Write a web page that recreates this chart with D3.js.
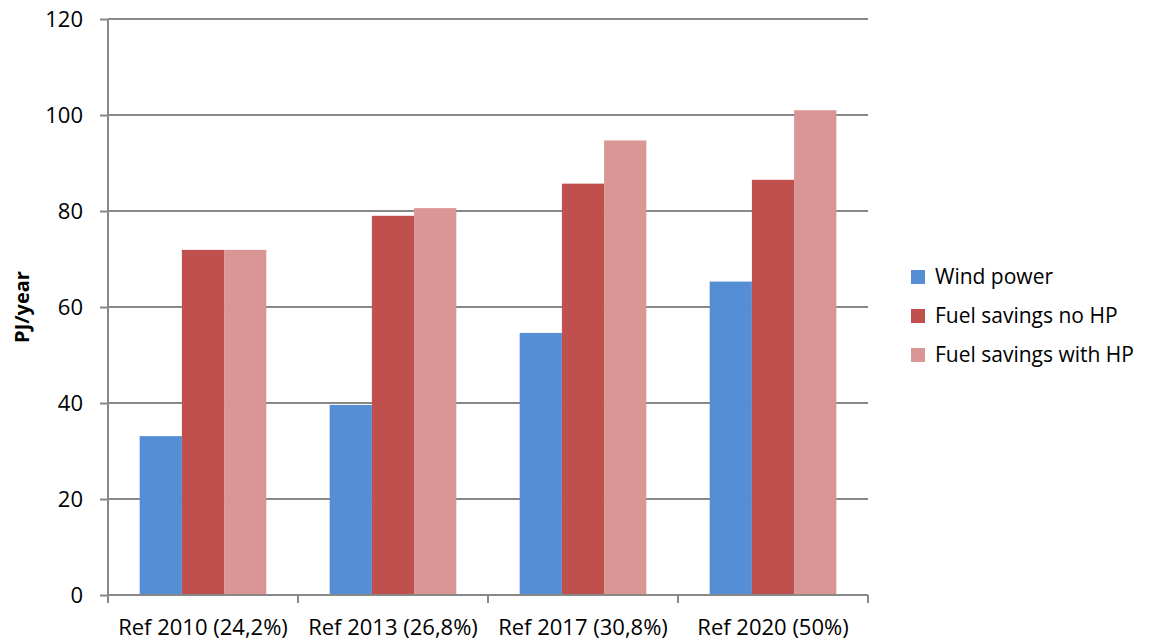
<!DOCTYPE html>
<html>
<head>
<meta charset="utf-8">
<script src="https://cdn.jsdelivr.net/npm/d3@7/dist/d3.min.js"></script>
<style>
  body { margin: 0; background: #fff; }
  text { font-family: "Open Sans", "Noto Sans", sans-serif; fill: #000; }
</style>
</head>
<body>
<svg id="chart" width="1159" height="643"></svg>
<script>
// chart data
var categories = ['Ref 2010 (24,2%)', 'Ref 2013 (26,8%)', 'Ref 2017 (30,8%)', 'Ref 2020 (50%)'];
var seriesNames = ['Wind power', 'Fuel savings no HP', 'Fuel savings with HP'];
var windPower = [33.1, 39.6, 54.6, 65.3];
var fuelNoHP = [71.9, 79.0, 85.7, 86.5];
var fuelWithHP = [71.9, 80.6, 94.7, 101.0];
var yTicks = [0, 20, 40, 60, 80, 100, 120];
var colors = ['#558ED5', '#C0504D', '#D99694'];

var seriesValues = [windPower, fuelNoHP, fuelWithHP];

var svg = d3.select('#chart');
var plotLeft = 108, plotRight = 868, plotTop = 19, plotBottom = 595;

var x = d3.scaleBand().domain(categories).range([plotLeft, plotRight]);
var inner = d3.scaleBand().domain(seriesNames)
    .range([0, x.bandwidth()]).paddingOuter(0.75).paddingInner(0);
var y = d3.scaleLinear().domain([0, 120]).range([plotBottom, plotTop]);

// gridlines
svg.append('g')
    .selectAll('line')
    .data(yTicks.filter(d => d > 0))
    .join('line')
    .attr('x1', plotLeft).attr('x2', plotRight)
    .attr('y1', d => y(d)).attr('y2', d => y(d))
    .attr('stroke', '#888').attr('stroke-width', 2);

// bars
var groups = svg.append('g')
    .selectAll('g')
    .data(seriesNames)
    .join('g')
    .attr('fill', (d, i) => colors[i]);

groups.selectAll('rect')
    .data((d, i) => categories.map((c, j) => ({cat: c, s: d, v: seriesValues[i][j]})))
    .join('rect')
    .attr('x', d => x(d.cat) + inner(d.s))
    .attr('y', d => y(d.v))
    .attr('width', inner.bandwidth())
    .attr('height', d => plotBottom - y(d.v));

// y axis
var yAxis = svg.append('g')
    .attr('transform', `translate(${plotLeft},0)`)
    .call(d3.axisLeft(y).tickValues(yTicks).tickSize(8).tickPadding(17));
yAxis.select('.domain').attr('stroke', '#888').attr('stroke-width', 2)
    .attr('d', `M0,${plotTop}V${plotBottom}`);
yAxis.selectAll('.tick line').attr('stroke', '#888').attr('stroke-width', 2);
yAxis.selectAll('.tick text').style('font-size', '22px').attr('fill', '#000');

// x axis
var xAxis = svg.append('g')
    .attr('transform', `translate(0,${plotBottom})`)
    .call(d3.axisBottom(x).tickSize(0));
xAxis.select('.domain').attr('stroke', '#888').attr('stroke-width', 2)
    .attr('d', `M${plotLeft},0H${plotRight}`);
xAxis.selectAll('.tick text')
    .attr('y', 40).attr('dy', null)
    .style('font-size', '22px').attr('fill', '#000');
xAxis.append('g')
    .selectAll('line')
    .data(d3.range(categories.length + 1))
    .join('line')
    .attr('x1', i => plotLeft + i * x.step()).attr('x2', i => plotLeft + i * x.step())
    .attr('y1', 0).attr('y2', 8)
    .attr('stroke', '#888').attr('stroke-width', 2);

// y title
svg.append('text')
    .attr('transform', 'translate(29,307) rotate(-90)')
    .attr('text-anchor', 'middle')
    .style('font-size', '20px')
    .style('font-weight', 'bold')
    .text('PJ/year');

// legend
var legend = svg.append('g')
    .selectAll('g')
    .data(seriesNames)
    .join('g')
    .attr('transform', (d, i) => `translate(911,${277 + i * 39})`);
legend.append('rect')
    .attr('x', 0).attr('y', -7)
    .attr('width', 14).attr('height', 14)
    .attr('fill', (d, i) => colors[i]);
legend.append('text')
    .attr('x', 24).attr('dy', '0.35em')
    .style('font-size', '21px')
    .text(d => d);
</script>
</body>
</html>
